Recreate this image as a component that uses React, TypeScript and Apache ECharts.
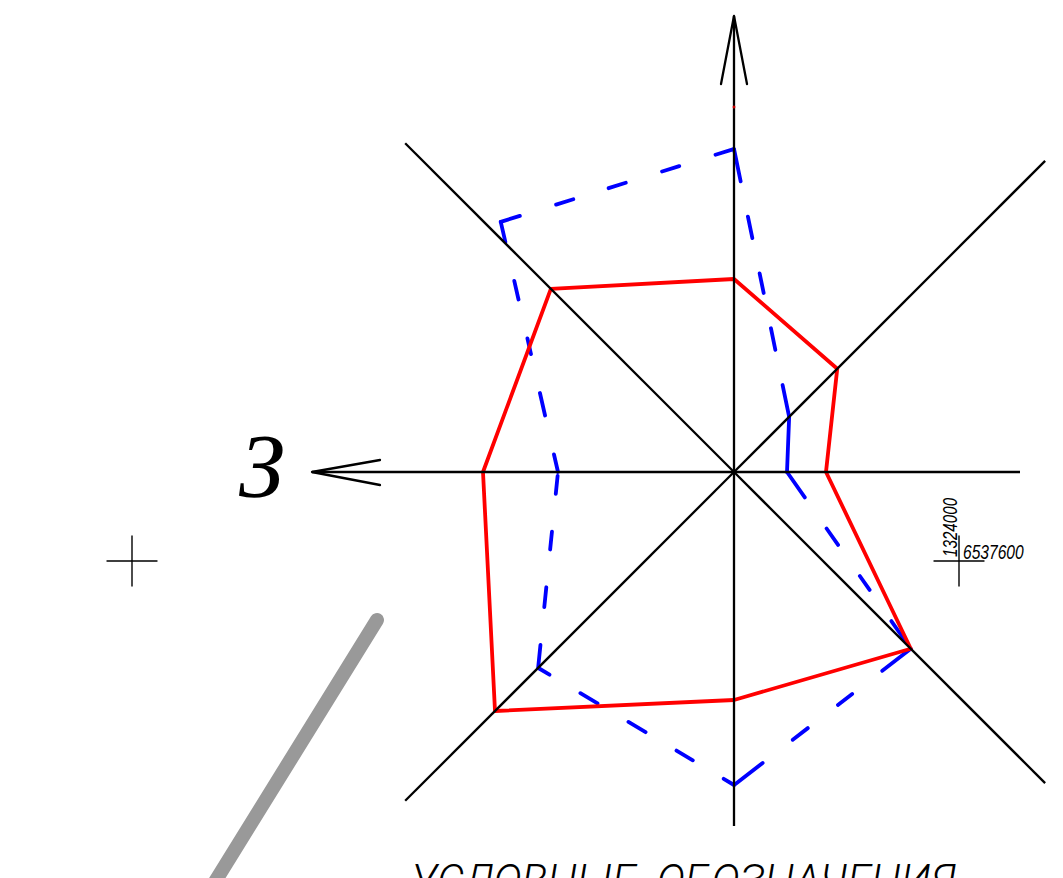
import React, { useEffect, useRef } from "react";
import * as echarts from "echarts";

// Wind rose: radius (px units), bearing in degrees clockwise from north
const bearings = [0, 45, 90, 135, 180, 225, 270, 315];
const redValues = [193, 146, 92, 250, 228, 338, 251, 259];
const blueValues = [323, 78, 53, 250, 313, 277, 176, 342];
const blueBearings = [0, 45, 90, 135, 180, 225, 270, 317];
const spokeLengths = [456, 440, 286, 440, 354, 465, 422, 465];
const northDot = [[365, 0]];

// CAD line type: each blue segment restarts its own dash pattern
const blueDashes = [
  [33, 36, 22, 36, 20, 36, 22, 36, 33],
  [60, 0],
  [31, 38, 20, 38, 17, 38, 24],
  [36, 38, 18, 38, 19, 38, 36],
  [12, 36, 19, 36, 20, 36, 20, 36, 12],
  [23, 38, 20, 38, 18, 38, 18],
  [18, 40, 23, 40, 16, 40, 19, 40, 26],
  [20, 38, 18, 37, 18, 38, 18, 38, 19],
];

const BLACK = "#000";
const BLUE = "#0000ff";
const RED = "#ff0000";

function thin(points: number[][], width = 1.2, color = BLACK) {
  return {
    type: "polyline",
    silent: true,
    shape: { points },
    style: { stroke: color, lineWidth: width, fill: "none", lineCap: "round", lineJoin: "round" },
  };
}

function label(text: string, x: number, y: number, fontSize: number, scaleX: number, rotation = 0, family = "Liberation Sans", fontWeight = 400) {
  return {
    type: "text",
    silent: true,
    x,
    y,
    rotation,
    scaleX,
    style: { text, fontFamily: family, fontStyle: "italic", fontWeight, fontSize, fill: BLACK },
  };
}

export default function App() {
  const ref = useRef<HTMLDivElement>(null);

  useEffect(() => {
    const chart = echarts.init(ref.current!, undefined, { renderer: "svg" });

    const closedRed = [...redValues, redValues[0]].map((r, i) => [r, i < bearings.length ? bearings[i] : 360]);

    const blueSegments = blueValues.map((r, i) => {
      const j = (i + 1) % blueValues.length;
      return {
        type: "line",
        coordinateSystem: "polar",
        silent: true,
        showSymbol: false,
        data: [
          [r, blueBearings[i]],
          [blueValues[j], blueBearings[j]],
        ],
        lineStyle: { color: BLUE, width: 3.8, type: blueDashes[i], cap: "round" },
        z: 2,
      };
    });

    const spokes = spokeLengths.map((len, i) => ({
      type: "line",
      coordinateSystem: "polar",
      silent: true,
      showSymbol: false,
      data: [
        [0, bearings[i]],
        [len, bearings[i]],
      ],
      lineStyle: { color: BLACK, width: 2.3 },
      z: 4,
    }));

    chart.setOption({
      animation: false,
      backgroundColor: "#fff",
      tooltip: { show: false },
      polar: { center: [734, 472], radius: [0, 500] },
      radiusAxis: { type: "value", min: 0, max: 500, show: false },
      angleAxis: { type: "value", min: 0, max: 360, startAngle: 90, show: false },
      series: [
        ...blueSegments,
        {
          type: "line",
          coordinateSystem: "polar",
          silent: true,
          showSymbol: false,
          data: closedRed,
          lineStyle: { color: RED, width: 3.8, join: "round" },
          z: 3,
        },
        ...spokes,
        {
          type: "scatter",
          coordinateSystem: "polar",
          silent: true,
          symbolSize: 3,
          data: northDot,
          itemStyle: { color: RED },
          z: 5,
        },
      ],
      graphic: [
        thin([[721, 84], [734, 16], [747, 84]], 2.3),
        thin([[380, 460], [312, 472], [380, 485]], 2.3),
        thin([[107, 561], [157, 561]], 1.4),
        thin([[132, 536], [132, 586]], 1.4),
        thin([[934, 561], [984, 561]], 1.4),
        thin([[959, 536], [959, 586]], 1.4),
        thin([[377, 620], [200, 906]], 14, "#999999"),
        label("З", 239, 420, 92, 1, 0, "Liberation Serif"),
        label("6537600", 963, 542, 20, 0.78),
        label("1324000", 940, 557, 20, 0.76, Math.PI / 2),
        label("УСЛОВНЫЕ  ОБОЗНАЧЕНИЯ", 411, 859, 44, 0.98, 0, "Roboto", 300),
      ],
    });

    return () => chart.dispose();
  }, []);

  return (
    <div
      ref={ref}
      style={{ position: "absolute", left: 0, top: 0, width: 1063, height: 878, overflow: "hidden" }}
    />
  );
}
